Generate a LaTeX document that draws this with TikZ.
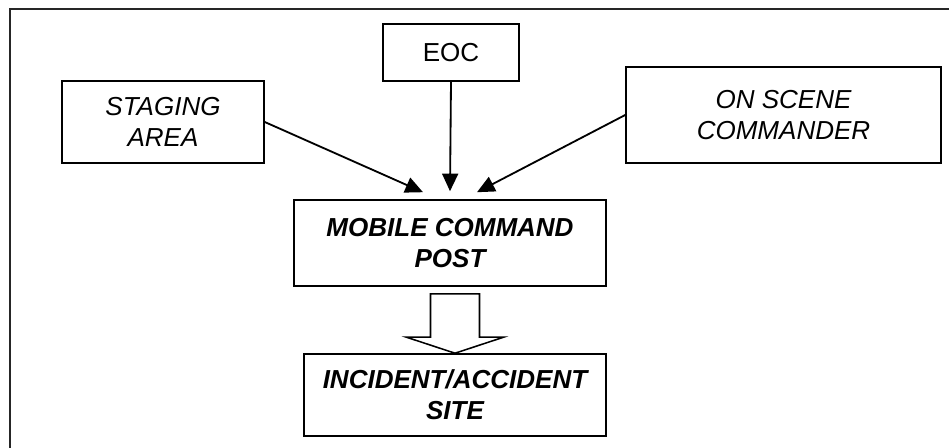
\documentclass[tikz,border=0pt]{standalone}
\usepackage{fontspec}
\setmainfont{Liberation Sans}
\usepackage{tikz}
\usetikzlibrary{arrows.meta,positioning,calc}

\begin{document}
\begin{tikzpicture}[x=0.025cm, y=-0.025cm,
  box/.style={rectangle, draw, line width=1.1pt, align=center, font=\fontsize{18.5}{22}\selectfont},
  feed/.style={-{Triangle[length=0.44cm, width=0.4cm]}, line width=1.3pt},
  hollow/.style={draw, line width=1.1pt, fill=white}]
\useasboundingbox (0,0) rectangle (949,448);
\draw[line width=1.2pt, black!85] (10,448) -- (10,9) -- (949,9);

\node[box, minimum width=5.05cm, minimum height=2.05cm] (staging) at (163,122) {\itshape STAGING\\\itshape AREA};
\node[box, minimum width=3.4cm, minimum height=1.425cm] (eoc) at (451,52.5) {EOC};
\node[box, minimum width=7.875cm, minimum height=2.4cm] (scene) at (783.5,115) {\itshape ON SCENE\\\itshape COMMANDER};
\node[box, minimum width=7.8cm, minimum height=2.15cm] (mcp) at (450,243) {\bfseries\itshape MOBILE COMMAND\\\bfseries\itshape POST};
\node[box, minimum width=7.55cm, minimum height=2.05cm] (site) at (455,395) {\bfseries\itshape INCIDENT/ACCIDENT\\\bfseries\itshape SITE};

\draw[feed] (staging.east) -- ($(mcp.north)+(-27,-7)$);
\draw[feed] (eoc.south) -- ($(mcp.north)+(0,-8)$);
\draw[feed] (scene.west) -- ($(mcp.north)+(27,-7)$);

\draw[hollow] ($(site.north |- mcp.south)+(-24.5,7)$) -- ($(site.north)+(-24.5,-16)$)
  -- ($(site.north)+(-48.5,-16)$) -- (site.north) -- ($(site.north)+(48.5,-16)$)
  -- ($(site.north)+(24.5,-16)$) -- ($(site.north |- mcp.south)+(24.5,7)$) -- cycle;
\end{tikzpicture}
\end{document}
